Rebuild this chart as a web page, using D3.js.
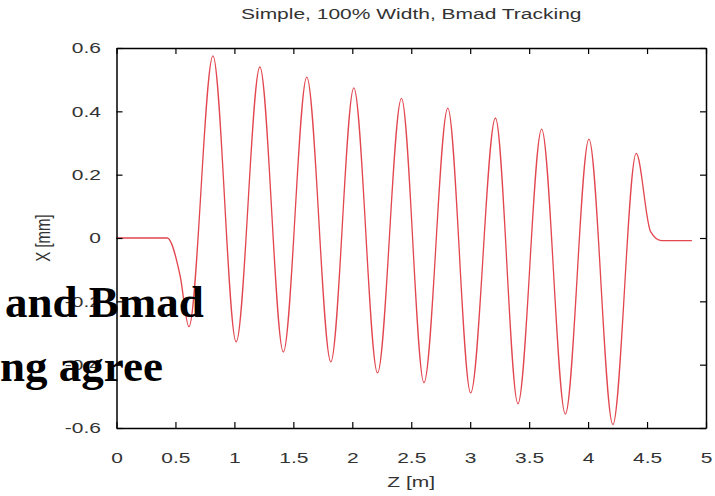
<!DOCTYPE html>
<html>
<head>
<meta charset="utf-8">
<script src="https://cdn.jsdelivr.net/npm/d3@7"></script>
<style>
  body { margin: 0; background: #fff; }
  svg { display: block; }
</style>
</head>
<body>
<svg width="715" height="496"></svg>
<script>
// values: z [m] and x [mm] at extrema / bends
var zPts = [0, 0.43, 0.54, 0.614, 0.818, 1.015, 1.216, 1.415, 1.614, 1.818, 2.013, 2.214,
            2.417, 2.608, 2.81, 3.004, 3.214, 3.405, 3.606, 3.807, 4.007, 4.21, 4.408,
            4.53, 4.62, 4.88];
var xPts = [0, 0, -0.12, -0.28, 0.575, -0.328, 0.54, -0.36, 0.508, -0.391, 0.474, -0.426,
            0.441, -0.457, 0.41, -0.489, 0.379, -0.523, 0.344, -0.556, 0.312, -0.589, 0.267,
            0.02, -0.008, -0.008];
var zTicks = [0, 0.5, 1, 1.5, 2, 2.5, 3, 3.5, 4, 4.5, 5];
var xTicks = [-0.6, -0.4, -0.2, 0, 0.2, 0.4, 0.6];

var svg = d3.select("svg");
var pLeft = 116.5, pRight = 706, pTop = 48, pBottom = 428;
var stretch = 1.4;   // text in the picture is widened horizontally
var font = "'Liberation Sans', Arial, sans-serif";

var x = d3.scaleLinear().domain([0, 5]).range([pLeft, pRight]);
var y = d3.scaleLinear().domain([-0.6, 0.6]).range([pBottom, pTop]);

function fmt(d) { return String(+d.toFixed(1)); }

function styleAxis(g) {
  g.select(".domain").attr("stroke", "#000").attr("stroke-width", 1.5);
  g.selectAll(".tick line").attr("stroke", "#000").attr("stroke-width", 1.2);
  g.selectAll("text").attr("font-family", font).attr("font-size", 15).attr("fill", "#333");
}

// curve
var line = d3.line()
  .x(function(d, i) { return x(zPts[i]); })
  .y(function(d, i) { return y(xPts[i]); })
  .curve(d3.curveMonotoneX);

svg.append("path")
  .datum(zPts)
  .attr("d", line)
  .attr("fill", "none")
  .attr("stroke", "#e2464f")
  .attr("stroke-width", 1.3);

// bottom axis
var gx = svg.append("g")
  .attr("transform", "translate(0," + pBottom + ")")
  .call(d3.axisBottom(x).tickValues(zTicks).tickFormat(fmt).tickSize(-6).tickSizeOuter(0).tickPadding(24));
styleAxis(gx);
gx.selectAll("text").attr("transform", "scale(" + stretch + ",1)");

// left axis
var gy = svg.append("g")
  .attr("transform", "translate(" + pLeft + ",0)")
  .call(d3.axisLeft(y).tickValues(xTicks).tickFormat(fmt).tickSize(-6).tickSizeOuter(0));
styleAxis(gy);
gy.selectAll("text")
  .attr("x", -15.5 / stretch)
  .attr("transform", "scale(" + stretch + ",1)");

// mirrored top and right axes
var gt = svg.append("g")
  .attr("transform", "translate(0," + pTop + ")")
  .call(d3.axisTop(x).tickValues(zTicks).tickFormat("").tickSize(-6).tickSizeOuter(0));
styleAxis(gt);
var gr = svg.append("g")
  .attr("transform", "translate(" + pRight + ",0)")
  .call(d3.axisRight(y).tickValues(xTicks).tickFormat("").tickSize(-6).tickSizeOuter(0));
styleAxis(gr);

// title and axis labels
svg.append("text")
  .attr("transform", "translate(" + (pLeft + pRight) / 2 + ",19) scale(" + stretch + ",1)")
  .attr("text-anchor", "middle")
  .attr("font-family", font).attr("font-size", 15).attr("fill", "#333")
  .text("Simple, 100% Width, Bmad Tracking");

svg.append("text")
  .attr("transform", "translate(" + (pLeft + pRight) / 2 + ",487) scale(" + stretch + ",1)")
  .attr("text-anchor", "middle")
  .attr("font-family", font).attr("font-size", 15).attr("fill", "#333")
  .text("Z [m]");

svg.append("text")
  .attr("transform", "translate(50," + (pTop + pBottom) / 2 + ") rotate(-90) scale(1," + stretch + ")")
  .attr("text-anchor", "middle")
  .attr("font-family", font).attr("font-size", 15).attr("fill", "#333")
  .text("X [mm]");

// overlaid slide text
var serif = "'Liberation Serif', 'Times New Roman', serif";
svg.append("text")
  .attr("x", 5).attr("y", 317)
  .attr("font-family", serif).attr("font-weight", "bold").attr("font-size", 45)
  .attr("fill", "#000")
  .text("and Bmad");
svg.append("text")
  .attr("x", 0).attr("y", 381)
  .attr("font-family", serif).attr("font-weight", "bold").attr("font-size", 45)
  .attr("fill", "#000")
  .text("ng agree");
</script>
</body>
</html>
